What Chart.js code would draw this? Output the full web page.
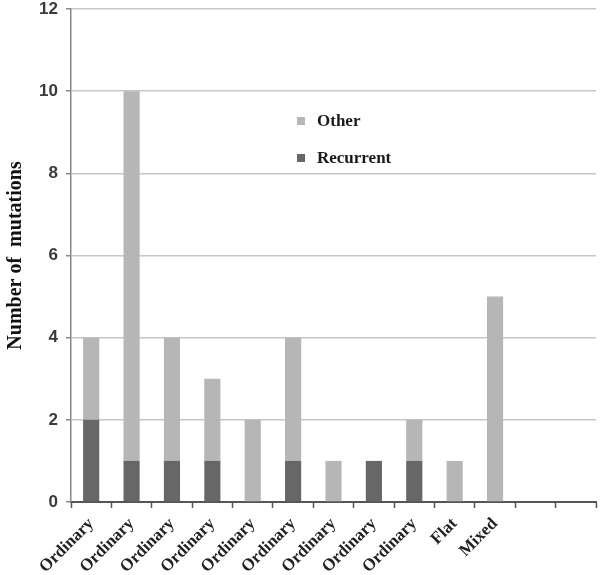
<!DOCTYPE html>
<html>
<head>
<meta charset="utf-8">
<script src="https://cdn.jsdelivr.net/npm/chart.js@4.4.1/dist/chart.umd.min.js"></script>
<style>
  html, body { margin: 0; padding: 0; background: #fff; }
  #wrap { width: 600px; height: 575px; position: relative; }
</style>
</head>
<body>
<div id="wrap"><canvas id="chart-mut"></canvas></div>
<script>
// data
const categories = ["Ordinary", "Ordinary", "Ordinary", "Ordinary", "Ordinary", "Ordinary",
  "Ordinary", "Ordinary", "Ordinary", "Flat", "Mixed", "", ""];
const recurrent = [2, 1, 1, 1, 0, 1, 0, 1, 1, 0, 0, null, null];
const other     = [2, 9, 3, 2, 2, 3, 1, 0, 1, 1, 5, null, null];
const yTicks    = [0, 2, 4, 6, 8, 10, 12];

const serif = "'Liberation Serif', 'Times New Roman', serif";
const sans = "'Liberation Sans', Arial, sans-serif";

// legend drawn inside the plot, like the original
const insideLegend = {
  id: "insideLegend",
  afterDraw(chart) {
    const ctx = chart.ctx;
    const sets = chart.data.datasets.slice().reverse();
    ctx.save();
    ctx.font = "bold 17px " + serif;
    ctx.textBaseline = "middle";
    sets.forEach((ds, i) => {
      const y = 121 + i * 37;
      ctx.fillStyle = ds.backgroundColor;
      ctx.fillRect(297, y - 4, 8, 8);
      ctx.fillStyle = "#1a1a1a";
      ctx.fillText(ds.label, 317, y + 1);
    });
    ctx.restore();
  }
};

new Chart(document.getElementById("chart-mut").getContext("2d"), {
  type: "bar",
  data: {
    labels: categories,
    datasets: [
      { label: "Recurrent", data: recurrent, backgroundColor: "#676767" },
      { label: "Other", data: other, backgroundColor: "#b6b6b6" }
    ]
  },
  options: {
    responsive: true,
    maintainAspectRatio: false,
    animation: false,
    layout: { padding: { top: 0, right: 4, left: 0, bottom: 0 } },
    datasets: { bar: { barPercentage: 0.4, categoryPercentage: 1 } },
    plugins: { legend: { display: false }, tooltip: { enabled: false } },
    scales: {
      x: {
        stacked: true,
        afterFit: s => { s.height = 73; },
        border: { color: "#555", width: 2 },
        grid: { drawOnChartArea: false, offset: true, tickLength: 6, tickColor: "#555", tickWidth: 1.5 },
        ticks: {
          minRotation: 45, maxRotation: 45, autoSkip: false, padding: 6,
          color: "#222", font: { family: serif, size: 17, weight: "bold" }
        }
      },
      y: {
        stacked: true,
        min: 0, max: 12,
        afterFit: s => { s.width = 71; s.paddingTop = 9; },
        afterBuildTicks: s => { s.ticks = yTicks.map(v => ({ value: v })); },
        border: { color: "#888", width: 1.5 },
        grid: { color: "#c6c6c6", lineWidth: 1.5, tickLength: 5, tickColor: "#888" },
        ticks: { padding: 8, color: "#3a3a3a", font: { family: sans, size: 17, weight: "bold" } },
        title: {
          display: true, text: "Number of  mutations", color: "#111",
          font: { family: serif, size: 20, weight: "bold" }, padding: { top: 4, bottom: 0 }
        }
      }
    }
  },
  plugins: [insideLegend]
});
</script>
</body>
</html>
